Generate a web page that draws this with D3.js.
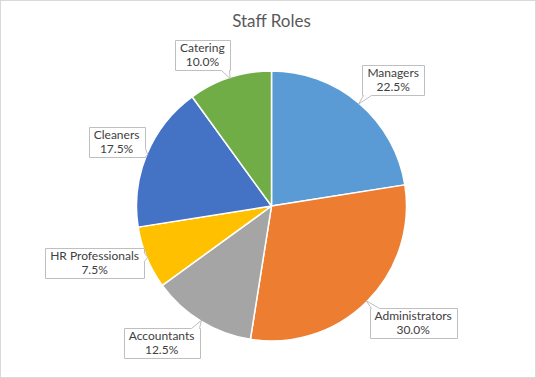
<!DOCTYPE html>
<html>
<head>
<meta charset="utf-8">
<script src="https://cdn.jsdelivr.net/npm/d3@7"></script>
<style>
  body { margin: 0; background: #fff; }
  svg { display: block; font-family: Lato, "Noto Sans", sans-serif; }
</style>
</head>
<body>
<div id="chart"></div>
<script>
// Staff roles pie with callout labels

const roles = ["Managers", "Administrators", "Accountants", "HR Professionals", "Cleaners", "Catering"];
const shares = [22.5, 30.0, 12.5, 7.5, 17.5, 10.0];
const colours = ["#5b9bd5", "#ed7d31", "#a5a5a5", "#ffc000", "#4472c4", "#70ad47"];

// label layout tweaks (px), relative to a point on a ring outside the pie
const labelNudge = {
  "Managers": [10, 5],
  "Administrators": [20, -5],
  "Accountants": [-20, -10],
  "HR Professionals": [-18, -9],
  "Cleaners": [4, 2],
  "Catering": [-16, 13]
};

const width = 536, height = 378;
const cx = 271.5, cy = 206, radius = 135;

const svg = d3.select("#chart").append("svg")
  .attr("width", width)
  .attr("height", height);

svg.append("rect")
  .attr("x", 0.5).attr("y", 0.5)
  .attr("width", width - 1).attr("height", height - 1)
  .attr("fill", "#fff")
  .attr("stroke", "#d9d9d9");

svg.append("text")
  .attr("x", cx).attr("y", 27)
  .attr("text-anchor", "middle")
  .attr("font-size", 17)
  .attr("fill", "#595959")
  .text("Staff Roles");

const data = roles.map((r, i) => ({ role: r, value: shares[i], colour: colours[i] }));

const pie = d3.pie().value(d => d.value).sort(null);
const arcs = pie(data);
const arc = d3.arc().innerRadius(0).outerRadius(radius);

const g = svg.append("g").attr("transform", `translate(${cx},${cy})`);

g.selectAll("path.slice")
  .data(arcs)
  .enter().append("path")
  .attr("class", "slice")
  .attr("d", arc)
  .attr("fill", d => d.data.colour)
  .attr("stroke", "#fff")
  .attr("stroke-width", 1.5)
  .attr("stroke-linejoin", "round");

function polar(a, r) {
  return [Math.sin(a) * r, -Math.cos(a) * r];
}

// callout box with a wedge pointing to the slice edge
function calloutPath(x0, y0, x1, y1, ax, ay) {
  const ex = { left: x0 - ax, right: ax - x1, top: y0 - ay, bottom: ay - y1 };
  let side = "top", best = -Infinity;
  for (const k in ex) if (ex[k] > best) { best = ex[k]; side = k; }
  const hw = 4;
  const clamp = (v, lo, hi) => Math.max(lo + hw + 1, Math.min(hi - hw - 1, v));
  const p = [];
  p.push([x0, y0]);
  if (side === "top") {
    const m = clamp(ax, x0, x1);
    p.push([m - hw, y0], [ax, ay], [m + hw, y0]);
  }
  p.push([x1, y0]);
  if (side === "right") {
    const m = clamp(ay, y0, y1);
    p.push([x1, m - hw], [ax, ay], [x1, m + hw]);
  }
  p.push([x1, y1]);
  if (side === "bottom") {
    const m = clamp(ax, x0, x1);
    p.push([m + hw, y1], [ax, ay], [m - hw, y1]);
  }
  p.push([x0, y1]);
  if (side === "left") {
    const m = clamp(ay, y0, y1);
    p.push([x0, m + hw], [ax, ay], [x0, m - hw]);
  }
  return "M" + p.map(q => q.join(",")).join("L") + "Z";
}

const labels = svg.append("g");

arcs.forEach(d => {
  const mid = (d.startAngle + d.endAngle) / 2;
  const nudge = labelNudge[d.data.role] || [0, 0];
  const [lx, ly] = polar(mid, 172);
  const x = cx + lx + nudge[0];
  const y = cy + ly + nudge[1];
  const [axr, ayr] = polar(mid, radius - 1);
  const ax = cx + axr, ay = cy + ayr;

  const lg = labels.append("g");
  const path = lg.append("path");
  const t = lg.append("text")
    .attr("text-anchor", "middle")
    .attr("font-size", 12)
    .attr("fill", "#404040");
  t.append("tspan").attr("x", x).attr("y", y - 3).text(d.data.role);
  t.append("tspan").attr("x", x).attr("y", y + 11).text(d.data.value.toFixed(1) + "%");

  const bb = t.node().getBBox();
  const w = Math.round(bb.width + 10), h = 30;
  const x0 = Math.round(x - w / 2) + 0.5, y0 = Math.round(y - h / 2) + 0.5;
  path.attr("d", calloutPath(x0, y0, x0 + w, y0 + h, ax, ay))
    .attr("fill", "#fff")
    .attr("stroke", "#bfbfbf")
    .attr("stroke-width", 1);
});
</script>
</body>
</html>
